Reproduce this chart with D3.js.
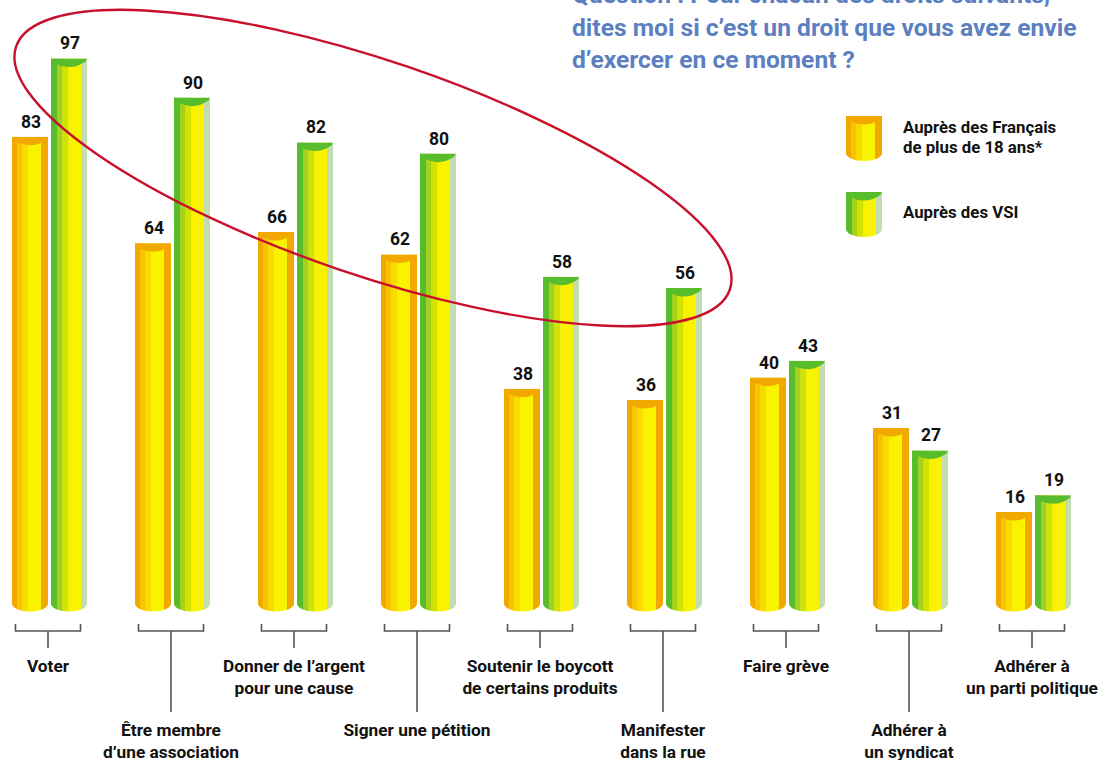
<!DOCTYPE html>
<html lang="fr">
<head>
<meta charset="utf-8">
<script src="https://cdn.jsdelivr.net/npm/d3@7"></script>
<style>
  html, body { margin: 0; padding: 0; background: #ffffff; }
  svg { display: block; }
  text { font-family: Roboto, "Liberation Sans", Arial, sans-serif; font-weight: 700; }
</style>
</head>
<body>
<svg id="chart" width="1103" height="760"></svg>
<script>
// ---------------- DATA ----------------
const categories = [
  ["Voter"],
  ["Être membre", "d’une association"],
  ["Donner de l’argent", "pour une cause"],
  ["Signer une pétition"],
  ["Soutenir le boycott", "de certains produits"],
  ["Manifester", "dans la rue"],
  ["Faire grève"],
  ["Adhérer à", "un syndicat"],
  ["Adhérer à", "un parti politique"]
];
const francaisValues = [83, 64, 66, 62, 38, 36, 40, 31, 16];
const vsiValues      = [97, 90, 82, 80, 58, 56, 43, 27, 19];
const seriesNames = [["Auprès des Français", "de plus de 18 ans*"], ["Auprès des VSI"]];
const titleLines = [
  "Question : Pour chacun des droits suivants,",
  "dites moi si c’est un droit que vous avez envie",
  "d’exercer en ce moment ?"
];

// ---------------- STYLES ----------------
const orangeStripes = [[0, 5, "#f1a900"], [5, 10, "#f6c400"], [10, 16, "#f8dc00"], [16, 29, "#f9f300"], [29, 36, "#f1a900"]];
const greenStripes  = [[0, 6, "#58bd2c"], [6, 11.5, "#a3d11c"], [11.5, 17.5, "#d3e300"], [17.5, 30, "#f9f300"], [30, 36, "#c2deb0"]];
const seriesStyle = [
  { stripes: orangeStripes, cap: "#f1a900" },
  { stripes: greenStripes,  cap: "#58bd2c" }
];

const svg = d3.select("#chart");
const defs = svg.append("defs");

const x0 = d3.scaleBand().domain(d3.range(categories.length)).range([12, 1071]).paddingInner(48 / 123).paddingOuter(0);
const x1 = d3.scaleBand().domain([0, 1]).range([0, x0.bandwidth()]).paddingInner(3 / 39);
const y = d3.scaleLinear().domain([0, 100]).range([601.6, 41.6]);

let clipId = 0;
function cylinder(g, x, top, bottom, w, style) {
  const id = "cyl" + (clipId++);
  const ry = 8;
  const cp = defs.append("clipPath").attr("id", id);
  cp.append("rect").attr("x", x).attr("y", top).attr("width", w).attr("height", bottom - top);
  cp.append("ellipse").attr("cx", x + w / 2).attr("cy", bottom).attr("rx", w / 2).attr("ry", ry);
  const k = w / 36;
  const cg = g.append("g").attr("clip-path", `url(#${id})`);
  cg.selectAll("rect").data(style.stripes).join("rect")
    .attr("x", d => x + d[0] * k)
    .attr("width", d => (d[1] - d[0]) * k + 0.3)
    .attr("y", top)
    .attr("height", bottom - top + ry + 1)
    .attr("fill", d => d[2]);
  cg.append("path")
    .attr("d", `M${x},${top} L${x + w},${top} L${x + w - 1.5 * k},${top + 3} Q${x + w * 0.55},${top + 13} ${x + 4 * k},${top + 5} L${x},${top + 5} Z`)
    .attr("fill", style.cap);
}

// ---------------- BARS ----------------
const groups = svg.append("g").selectAll("g.grp")
  .data(categories.map((c, i) => ({ i, values: [francaisValues[i], vsiValues[i]] })))
  .join("g").attr("class", "grp");

groups.each(function (d) {
  const g = d3.select(this);
  d.values.forEach((v, s) => {
    const bx = x0(d.i) + x1(s);
    cylinder(g, bx, y(v), y(0) + 2, x1.bandwidth(), seriesStyle[s]);
    g.append("text")
      .attr("x", bx + x1.bandwidth() / 2 + 1)
      .attr("y", y(v) - 9)
      .attr("text-anchor", "middle")
      .attr("font-size", 17.5)
      .attr("fill", "#111")
      .text(v);
  });
});

// ---------------- BRACKETS & LABELS ----------------
const axisG = svg.append("g").attr("stroke", "#555").attr("stroke-width", 1.6).attr("fill", "none");
categories.forEach((lines, i) => {
  const cx = x0(i) + x0.bandwidth() / 2 - 1.5;
  const half = 32.5;
  const longStem = i % 2 === 1;
  axisG.append("path").attr("d", `M${cx - half},624 V631 H${cx + half} V624`);
  const stemEnd = longStem ? 712 : 648;
  axisG.append("line").attr("x1", cx).attr("x2", cx).attr("y1", 631).attr("y2", stemEnd);
  const base = longStem ? 736 : 672;
  const t = svg.append("text").attr("text-anchor", "middle").attr("font-size", 17.3).attr("fill", "#111");
  lines.forEach((ln, j) => {
    t.append("tspan").attr("x", cx).attr("y", base + j * 21.5).text(ln);
  });
});

// ---------------- ANNOTATION ELLIPSE ----------------
svg.append("ellipse")
  .attr("cx", 0).attr("cy", 0).attr("rx", 377).attr("ry", 107)
  .attr("transform", "translate(373,168) rotate(18.8)")
  .attr("fill", "none").attr("stroke", "#c8102e").attr("stroke-width", 2.4);

// ---------------- TITLE ----------------
const title = svg.append("text").attr("font-size", 24.6).attr("fill", "#5b7fc1");
titleLines.forEach((ln, j) => {
  title.append("tspan").attr("x", 572).attr("y", 3 + j * 32.5).text(ln);
});

// ---------------- LEGEND ----------------
const legendTops = [116, 192];
seriesNames.forEach((names, s) => {
  const lg = svg.append("g");
  cylinder(lg, 846, legendTops[s], legendTops[s] + 37, 36, seriesStyle[s]);
  const t = lg.append("text").attr("font-size", 16.8).attr("fill", "#111");
  const base = s === 0 ? 133 : 218;
  names.forEach((n, j) => t.append("tspan").attr("x", 903).attr("y", base + j * 20).text(n));
});
</script>
</body>
</html>
